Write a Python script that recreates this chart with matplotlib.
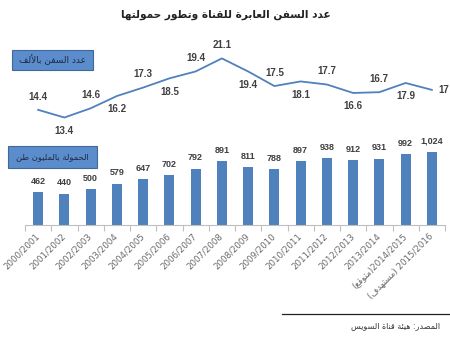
import numpy as np
import matplotlib
matplotlib.use("Agg")
import matplotlib.pyplot as plt
from matplotlib.patches import Rectangle
from matplotlib.lines import Line2D

# ---------------- data ----------------
seasons = ['2000/2001', '2001/2002', '2002/2003', '2003/2004', '2004/2005',
           '2005/2006', '2006/2007', '2007/2008', '2008/2009', '2009/2010',
           '2010/2011', '2011/2012', '2012/2013', '2013/2014', '2014/2015',
           '2015/2016']
season_notes = {14: 'متوقع', 15: 'مستهدف'}
ships_thousands = [14.4, 13.4, 14.6, 16.2, 17.3, 18.5, 19.4, 21.1, 19.4,
                   17.5, 18.1, 17.7, 16.6, 16.7, 17.9, 17]
tonnage_million = [462, 440, 500, 579, 647, 702, 792, 891, 811, 788, 897,
                   938, 912, 931, 992, 1024]
title_text = 'عدد السفن العابرة للقناة وتطور حمولتها'
ships_box_text = 'عدد السفن بالألف'
tonnage_box_text = 'الحمولة بالمليون طن'
source_text = 'المصدر: هيئة قناة السويس'

# ---------------- simple Arabic shaping ----------------
FORMS = {  # isolated, final, initial, medial
    'ء': (0xFE80, None, None, None),
    'آ': (0xFE81, 0xFE82, None, None),
    'أ': (0xFE83, 0xFE84, None, None),
    'ؤ': (0xFE85, 0xFE86, None, None),
    'إ': (0xFE87, 0xFE88, None, None),
    'ئ': (0xFE89, 0xFE8A, 0xFE8B, 0xFE8C),
    'ا': (0xFE8D, 0xFE8E, None, None),
    'ب': (0xFE8F, 0xFE90, 0xFE91, 0xFE92),
    'ة': (0xFE93, 0xFE94, None, None),
    'ت': (0xFE95, 0xFE96, 0xFE97, 0xFE98),
    'ث': (0xFE99, 0xFE9A, 0xFE9B, 0xFE9C),
    'ج': (0xFE9D, 0xFE9E, 0xFE9F, 0xFEA0),
    'ح': (0xFEA1, 0xFEA2, 0xFEA3, 0xFEA4),
    'خ': (0xFEA5, 0xFEA6, 0xFEA7, 0xFEA8),
    'د': (0xFEA9, 0xFEAA, None, None),
    'ذ': (0xFEAB, 0xFEAC, None, None),
    'ر': (0xFEAD, 0xFEAE, None, None),
    'ز': (0xFEAF, 0xFEB0, None, None),
    'س': (0xFEB1, 0xFEB2, 0xFEB3, 0xFEB4),
    'ش': (0xFEB5, 0xFEB6, 0xFEB7, 0xFEB8),
    'ص': (0xFEB9, 0xFEBA, 0xFEBB, 0xFEBC),
    'ض': (0xFEBD, 0xFEBE, 0xFEBF, 0xFEC0),
    'ط': (0xFEC1, 0xFEC2, 0xFEC3, 0xFEC4),
    'ظ': (0xFEC5, 0xFEC6, 0xFEC7, 0xFEC8),
    'ع': (0xFEC9, 0xFECA, 0xFECB, 0xFECC),
    'غ': (0xFECD, 0xFECE, 0xFECF, 0xFED0),
    'ف': (0xFED1, 0xFED2, 0xFED3, 0xFED4),
    'ق': (0xFED5, 0xFED6, 0xFED7, 0xFED8),
    'ك': (0xFED9, 0xFEDA, 0xFEDB, 0xFEDC),
    'ل': (0xFEDD, 0xFEDE, 0xFEDF, 0xFEE0),
    'م': (0xFEE1, 0xFEE2, 0xFEE3, 0xFEE4),
    'ن': (0xFEE5, 0xFEE6, 0xFEE7, 0xFEE8),
    'ه': (0xFEE9, 0xFEEA, 0xFEEB, 0xFEEC),
    'و': (0xFEED, 0xFEEE, None, None),
    'ى': (0xFEEF, 0xFEF0, None, None),
    'ي': (0xFEF1, 0xFEF2, 0xFEF3, 0xFEF4),
}
LAM_ALEF = {'آ': (0xFEF5, 0xFEF6), 'أ': (0xFEF7, 0xFEF8),
            'إ': (0xFEF9, 0xFEFA), 'ا': (0xFEFB, 0xFEFC)}
MIRROR = {'(': ')', ')': '('}


def shape(text):
    units = []
    i = 0
    while i < len(text):
        c = text[i]
        if c == 'ل' and i + 1 < len(text) and text[i + 1] in LAM_ALEF:
            units.append((text[i + 1], 'la'))
            i += 2
            continue
        units.append((c, 'ar' if c in FORMS else 'other'))
        i += 1

    def joins_next(u):
        return u[1] == 'ar' and FORMS[u[0]][2] is not None

    def is_letter(u):
        return u[1] in ('ar', 'la')

    out = []
    for k, u in enumerate(units):
        prev_ok = k > 0 and joins_next(units[k - 1])
        if u[1] == 'la':
            iso, fin = LAM_ALEF[u[0]]
            out.append(chr(fin if prev_ok else iso))
        elif u[1] == 'ar':
            f = FORMS[u[0]]
            next_ok = (f[2] is not None and k + 1 < len(units)
                       and is_letter(units[k + 1]))
            if prev_ok and f[1] is None:
                prev_ok = False
            if prev_ok and next_ok:
                out.append(chr(f[3]))
            elif prev_ok:
                out.append(chr(f[1]))
            elif next_ok:
                out.append(chr(f[2]))
            else:
                out.append(chr(f[0]))
        else:
            out.append(u[0])
    return ''.join(MIRROR.get(c, c) for c in reversed(out))


plt.rcParams['font.family'] = ['DejaVu Sans']
NUMFONT = ['Liberation Sans', 'DejaVu Sans']

W, H = 450, 337
fig = plt.figure(figsize=(W / 100, H / 100), dpi=100)
fig.patch.set_facecolor('white')

BLUE = '#4F81BD'
TXT = '#3F3F3F'

ax = fig.add_axes([25 / W, (H - 225) / H, 420 / W, 195 / H])
x = np.arange(len(seasons))
ax.bar(x, tonnage_million, width=0.38, color=BLUE, zorder=2)
ax.set_xlim(-0.5, len(seasons) - 0.5)
ax.set_ylim(0, 2735)
for s in ('top', 'right', 'left'):
    ax.spines[s].set_visible(False)
ax.spines['bottom'].set_color('#BFBFBF')
ax.spines['bottom'].set_linewidth(0.8)
ax.set_yticks([])

labels = []
for i, s in enumerate(seasons):
    if i in season_notes:
        sep = '' if i == 14 else ' '
        labels.append('(' + shape(season_notes[i]) + ')' + sep + s)
    else:
        labels.append(s)
ax.set_xticks(x)
ax.set_xticklabels(labels, rotation=45, ha='right', va='center',
                   rotation_mode='anchor', fontsize=6.2, color='#6A6A6A')
ax.tick_params(axis='x', which='major', length=0, pad=7)
ax.set_xticks(np.arange(-0.5, len(seasons), 1), minor=True)
ax.tick_params(axis='x', which='minor', length=4, color='#BFBFBF', width=0.8)

for xi, v in zip(x, tonnage_million):
    ax.annotate(f'{v:,}', (xi, v), xytext=(0, 4.5), textcoords='offset points',
                ha='center', va='bottom', fontsize=6.5, fontweight='bold',
                color=TXT, family=NUMFONT)

ax2 = ax.twinx()
ax2.plot(x, ships_thousands, color=BLUE, lw=1.3, zorder=3)
ax2.set_ylim(-0.6, 24.8)
ax2.set_yticks([])
for s in ax2.spines.values():
    s.set_visible(False)

place = ['up', 'down', 'up', 'down', 'up', 'down', 'up', 'up', 'down',
         'up', 'down', 'up', 'down', 'up', 'down', 'right']
for xi, v, p in zip(x, ships_thousands, place):
    txt = f'{v:g}'
    if p == 'up':
        off, ha = (0, 9.5), 'center'
    elif p == 'down':
        off, ha = (0, -9.5), 'center'
    else:
        off, ha = (5, 0), 'left'
    ax2.annotate(txt, (xi, v), xytext=off, textcoords='offset points',
                 ha=ha, va='center', fontsize=7, fontweight='bold',
                 color=TXT, family=NUMFONT)


def box(x0, y0, x1, y1, text, size):
    fig.patches.append(Rectangle((x0 / W, 1 - y1 / H), (x1 - x0) / W,
                                 (y1 - y0) / H, transform=fig.transFigure,
                                 facecolor='#5B8CCB', edgecolor='#41689B',
                                 lw=0.8, zorder=5))
    fig.text((x0 + x1) / 2 / W, 1 - (y0 + y1) / 2 / H, shape(text),
             ha='center', va='center', fontsize=size, color='#1F2A44',
             zorder=6)


box(12, 50, 93, 70, ships_box_text, 6.5)
box(8, 146, 97, 168, tonnage_box_text, 6.0)

fig.text(226 / W, 1 - 15 / H, shape(title_text), ha='center', va='center',
         fontsize=7.6, fontweight='bold', color='#222222')

fig.lines.append(Line2D([282 / W, 1.0], [1 - 314 / H, 1 - 314 / H],
                        transform=fig.transFigure, color='#222222', lw=0.9))
fig.text(440 / W, 1 - 326 / H, shape(source_text), ha='right', va='center',
         fontsize=5.8, color='#333333')

fig.savefig('out.png', dpi=100)
